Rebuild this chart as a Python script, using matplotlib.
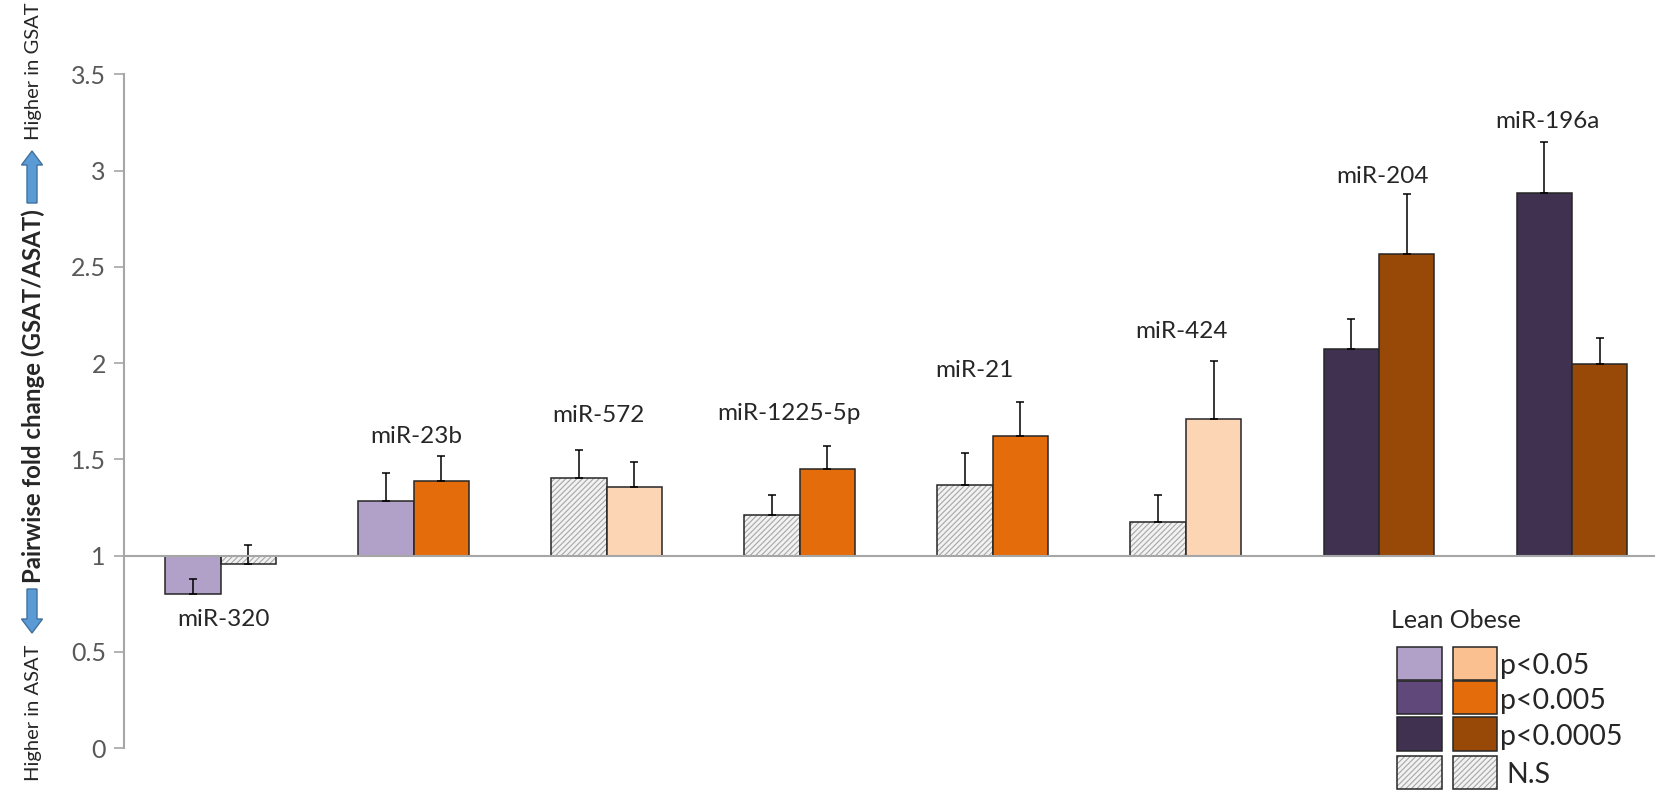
import numpy as np
import matplotlib
matplotlib.use('Agg')
import matplotlib.pyplot as plt
from matplotlib.patches import Rectangle, FancyArrow

plt.rcParams['font.family'] = ['Lato', 'DejaVu Sans']
plt.rcParams['hatch.linewidth'] = 0.8

mirnas = ['miR-320', 'miR-23b', 'miR-572', 'miR-1225-5p', 'miR-21', 'miR-424', 'miR-204', 'miR-196a']
lean_vals = [0.80, 1.285, 1.404, 1.209, 1.368, 1.172, 2.071, 2.883]
lean_err = [0.076, 0.142, 0.144, 0.105, 0.164, 0.142, 0.158, 0.265]
obese_vals = [0.954, 1.389, 1.357, 1.449, 1.622, 1.709, 2.566, 1.993]
obese_err = [0.102, 0.128, 0.130, 0.121, 0.175, 0.300, 0.310, 0.137]
lean_sig = ['p<0.05', 'p<0.05', 'N.S', 'N.S', 'N.S', 'N.S', 'p<0.0005', 'p<0.0005']
obese_sig = ['N.S', 'p<0.005', 'p<0.05', 'p<0.005', 'p<0.005', 'p<0.05', 'p<0.0005', 'p<0.0005']

# label placement (y in data units, x shift from group centre)
label_y = [0.665, 1.617, 1.725, 1.739, 1.96, 2.163, 2.968, 3.254]
label_dx = [0.014, 0.015, -0.044, -0.054, -0.094, -0.023, 0.016, -0.128]

lean_colors = {'p<0.05': '#B1A0C7', 'p<0.005': '#60497A', 'p<0.0005': '#403151'}
obese_colors = {'p<0.05': '#FCD5B5', 'p<0.005': '#E46C0A', 'p<0.0005': '#984807'}
legend_obese = {'p<0.05': '#FAC090', 'p<0.005': '#E46C0A', 'p<0.0005': '#984807'}
ns_face = '#F2F2F2'
ns_hatch = '#A6A6A6'
edge = '#262626'
axis_gray = '#A6A6A6'

fig = plt.figure(figsize=(16.55, 7.92), dpi=100)
ax = fig.add_axes([124 / 1655, 44 / 792, 1 - 124 / 1655, (748 - 74.3) / 792])

x = np.arange(len(mirnas))
w = 0.287


def draw_bars(xs, vals, errs, sigs, cmap):
    for xi, v, e, s in zip(xs, vals, errs, sigs):
        if s == 'N.S':
            ax.bar(xi, v - 1, w, bottom=1, color=ns_face, edgecolor=ns_hatch,
                   hatch='//////', linewidth=0, zorder=2)
            ax.bar(xi, v - 1, w, bottom=1, color='none', edgecolor=edge,
                   linewidth=1.1, zorder=3)
        else:
            ax.bar(xi, v - 1, w, bottom=1, color=cmap[s], edgecolor=edge,
                   linewidth=1.1, zorder=3)
        ax.errorbar(xi, v, yerr=[[0], [e]], fmt='none', ecolor='black',
                    elinewidth=1.1, capsize=3.2, capthick=1.1, zorder=4)


draw_bars(x - w / 2, lean_vals, lean_err, lean_sig, lean_colors)
draw_bars(x + w / 2, obese_vals, obese_err, obese_sig, obese_colors)

for xi, name, ly, dx in zip(x, mirnas, label_y, label_dx):
    ax.text(xi + dx, ly, name, ha='center', va='center', fontsize=17.5, color='#262626')

ax.set_xlim(-0.5, 7.43)
ax.set_ylim(0, 3.5)
ax.set_yticks([0, 0.5, 1, 1.5, 2, 2.5, 3, 3.5])
ax.set_yticklabels(['0', '0.5', '1', '1.5', '2', '2.5', '3', '3.5'])
ax.tick_params(axis='y', direction='out', length=7, width=1.2, color=axis_gray,
               labelsize=18, labelcolor='#595959', pad=6)
ax.set_xticks([])
for sp in ['top', 'right']:
    ax.spines[sp].set_visible(False)
ax.spines['left'].set_color(axis_gray)
ax.spines['left'].set_linewidth(1.5)
ax.spines['bottom'].set_position(('data', 1))
ax.spines['bottom'].set_color(axis_gray)
ax.spines['bottom'].set_linewidth(1.5)
ax.spines['bottom'].set_zorder(5)

# y-axis title with direction arrows
fw, fh = 1655, 792
fig.text(33 / fw, 1 - 396 / fh, 'Pairwise fold change (GSAT/ASAT)', rotation=90,
         ha='center', va='center', fontsize=17.3, fontweight='bold', color='#262626')
fig.text(33 / fw, 1 - 2 / fh, 'Higher in GSAT', rotation=90,
         ha='center', va='top', fontsize=14.5, color='#262626')
fig.text(33 / fw, 1 - 713 / fh, 'Higher in ASAT', rotation=90,
         ha='center', va='center', fontsize=14.5, color='#262626')
fig.patches.append(FancyArrow(32 / fw, 1 - 203 / fh, 0, 52 / fh, width=10 / fw,
                              head_width=21 / fw, head_length=14 / fh,
                              length_includes_head=True, facecolor='#5B9BD5',
                              edgecolor='#41719C', linewidth=1, transform=fig.transFigure))
fig.patches.append(FancyArrow(32 / fw, 1 - 589 / fh, 0, -44 / fh, width=10 / fw,
                              head_width=21 / fw, head_length=14 / fh,
                              length_includes_head=True, facecolor='#5B9BD5',
                              edgecolor='#41719C', linewidth=1, transform=fig.transFigure))

# legend: lean column, obese column, then level label
fig.text(1391 / fw, 1 - 621 / fh, 'Lean Obese', ha='left', va='center',
         fontsize=18, color='#262626')
levels = ['p<0.05', 'p<0.005', 'p<0.0005', 'N.S']
row_top = [646.7, 681, 716.7, 756]
row_h = [33.3, 33.3, 34, 32.7]
for lvl, top, h in zip(levels, row_top, row_h):
    for x0, cmap in [(1397.3, lean_colors), (1452.7, legend_obese)]:
        if lvl == 'N.S':
            fig.patches.append(Rectangle((x0 / fw, 1 - (top + h) / fh), 44.5 / fw, h / fh,
                                         facecolor=ns_face, edgecolor=ns_hatch, hatch='//////',
                                         linewidth=0, transform=fig.transFigure))
            fig.patches.append(Rectangle((x0 / fw, 1 - (top + h) / fh), 44.5 / fw, h / fh,
                                         facecolor='none', edgecolor=edge, linewidth=1.1,
                                         transform=fig.transFigure))
        else:
            fig.patches.append(Rectangle((x0 / fw, 1 - (top + h) / fh), 44.5 / fw, h / fh,
                                         facecolor=cmap[lvl], edgecolor=edge, linewidth=1.1,
                                         transform=fig.transFigure))
    tx = 1506.7 if lvl == 'N.S' else 1500
    fig.text(tx / fw, 1 - (top + h / 2 + 3) / fh, lvl, ha='left', va='center',
             fontsize=20.5, color='#262626')

fig.savefig('out.png', dpi=100)
